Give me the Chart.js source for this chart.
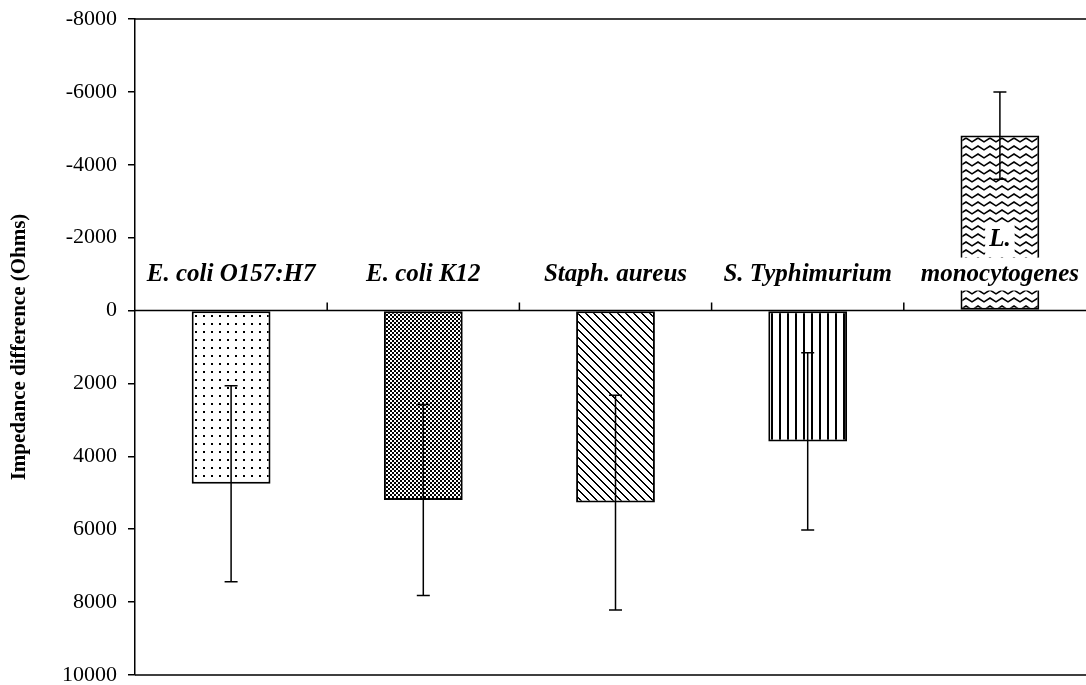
<!DOCTYPE html>
<html>
<head>
<meta charset="utf-8">
<script src="https://cdn.jsdelivr.net/npm/chart.js@4/dist/chart.umd.min.js"></script>
<style>
  html, body { margin: 0; padding: 0; background: #fff; overflow: hidden; }
  #wrap { width: 1096px; height: 685px; }
</style>
</head>
<body>
<div id="wrap"><canvas id="c" width="1096" height="685"></canvas></div>
<script>
// Bacteria tested (label lines drawn above the zero line)
const categories = ['E. coli O157:H7', 'E. coli K12', 'Staph. aureus', 'S. Typhimurium', 'L. monocytogenes'];
const labelLines = [['E. coli O157:H7'], ['E. coli K12'], ['Staph. aureus'], ['S. Typhimurium'], ['L.', 'monocytogenes']];
// Mean impedance difference (Ohms) and standard deviation
const impedance = [4750, 5200, 5270, 3590, -4800];
const stdDev = [2690, 2620, 2945, 2430, 1200];
// Y axis tick range
const yMin = -8000, yMax = 10000, yStep = 2000;

const SERIF = '"Liberation Serif", "Times New Roman", serif';

// ---- fill patterns -------------------------------------------------
function tile(w, h, paint) {
  const c = document.createElement('canvas');
  c.width = w; c.height = h;
  const g = c.getContext('2d');
  g.fillStyle = '#fff'; g.fillRect(0, 0, w, h);
  g.fillStyle = '#000'; g.strokeStyle = '#000';
  paint(g);
  return c;
}
const pctx = document.createElement('canvas').getContext('2d');
const patDots = pctx.createPattern(tile(8, 8, g => g.fillRect(3, 3, 2, 2)), 'repeat');
const patChecker = pctx.createPattern(tile(4, 4, g => { g.fillRect(0, 0, 2, 2); g.fillRect(2, 2, 2, 2); }), 'repeat');
const patDiag = pctx.createPattern(tile(8, 8, g => { for (let i = 0; i < 8; i++) { g.fillRect(i, i, 2, 1); if (i === 7) g.fillRect(0, 7, 1, 1); } }), 'repeat');
const patVert = pctx.createPattern(tile(8, 8, g => g.fillRect(3, 0, 2, 8)), 'repeat');
const patWave = pctx.createPattern(tile(12, 8, g => {
  g.lineWidth = 1.6;
  g.beginPath(); g.moveTo(-1, 6.5); g.lineTo(6, 2); g.lineTo(13, 6.5); g.stroke();
}), 'repeat');
const fills = [patDots, patChecker, patDiag, patVert, patWave];

// ---- frame, zero line, category labels and error bars -------------
const overlay = {
  id: 'overlay',
  afterDatasetsDraw(chart) {
    const { ctx, chartArea: a, scales: { x, y } } = chart;
    ctx.save();
    ctx.strokeStyle = '#000';
    ctx.lineWidth = 1.5;

    // top and bottom frame lines
    ctx.beginPath();
    ctx.moveTo(a.left, a.top); ctx.lineTo(a.right, a.top);
    ctx.moveTo(a.left, a.bottom); ctx.lineTo(a.right, a.bottom);
    ctx.stroke();

    // zero line with upward category ticks
    const y0 = y.getPixelForValue(0);
    ctx.beginPath();
    ctx.moveTo(a.left, y0); ctx.lineTo(a.right, y0);
    const n = categories.length;
    const step = (a.right - a.left) / n;
    for (let i = 1; i <= n; i++) {
      const bx = a.left + step * i;
      ctx.moveTo(bx, y0); ctx.lineTo(bx, y0 - 8);
    }
    ctx.stroke();

    // error bars
    const cap = 6.5;
    impedance.forEach((v, i) => {
      const cx = x.getPixelForValue(i);
      const yLo = y.getPixelForValue(v - stdDev[i]);
      const yHi = y.getPixelForValue(v + stdDev[i]);
      ctx.beginPath();
      ctx.moveTo(cx, yLo); ctx.lineTo(cx, yHi);
      ctx.moveTo(cx - cap, yLo); ctx.lineTo(cx + cap, yLo);
      ctx.moveTo(cx - cap, yHi); ctx.lineTo(cx + cap, yHi);
      ctx.stroke();
    });

    // category labels with white backing
    ctx.font = 'italic bold 25px ' + SERIF;
    ctx.textAlign = 'center';
    ctx.textBaseline = 'middle';
    labelLines.forEach((lines, i) => {
      const cx = x.getPixelForValue(i);
      lines.forEach((t, k) => {
        const cy = y0 - 37 - (lines.length - 1 - k) * 35;
        const w = ctx.measureText(t).width;
        ctx.fillStyle = '#fff';
        ctx.fillRect(cx - w / 2 - 4, cy - 16, w + 8, 33);
        ctx.fillStyle = '#000';
        ctx.fillText(t, cx, cy + 1);
      });
    });
    ctx.restore();
  }
};

new Chart(document.getElementById('c'), {
  type: 'bar',
  data: {
    labels: categories,
    datasets: [{
      data: impedance,
      backgroundColor: fills,
      borderColor: '#000',
      borderWidth: 2,
      borderSkipped: false,
      categoryPercentage: 1,
      barPercentage: 0.41
    }]
  },
  options: {
    responsive: false,
    animation: false,
    devicePixelRatio: 1,
    layout: { padding: { top: 19, bottom: 10, left: 0, right: 0 } },
    plugins: { legend: { display: false }, tooltip: { enabled: false } },
    scales: {
      x: { display: false },
      y: {
        reverse: true,
        min: yMin,
        max: yMax,
        afterFit(scale) {
          scale.width = 135;
          scale.paddingTop = 0;
          scale.paddingBottom = 0;
        },
        ticks: {
          stepSize: yStep,
          padding: 11,
          color: '#000',
          font: { family: SERIF, size: 22, lineHeight: 0.9 },
          callback: v => String(v)
        },
        grid: { drawOnChartArea: false, drawTicks: true, tickLength: 7, color: '#000', lineWidth: 1.5 },
        border: { display: true, color: '#000', width: 1.5 },
        title: {
          display: true,
          text: 'Impedance difference (Ohms)',
          color: '#000',
          font: { family: SERIF, size: 21, weight: 'bold' },
          padding: { top: 7, bottom: 0 }
        }
      }
    }
  },
  plugins: [overlay]
});
</script>
</body>
</html>
